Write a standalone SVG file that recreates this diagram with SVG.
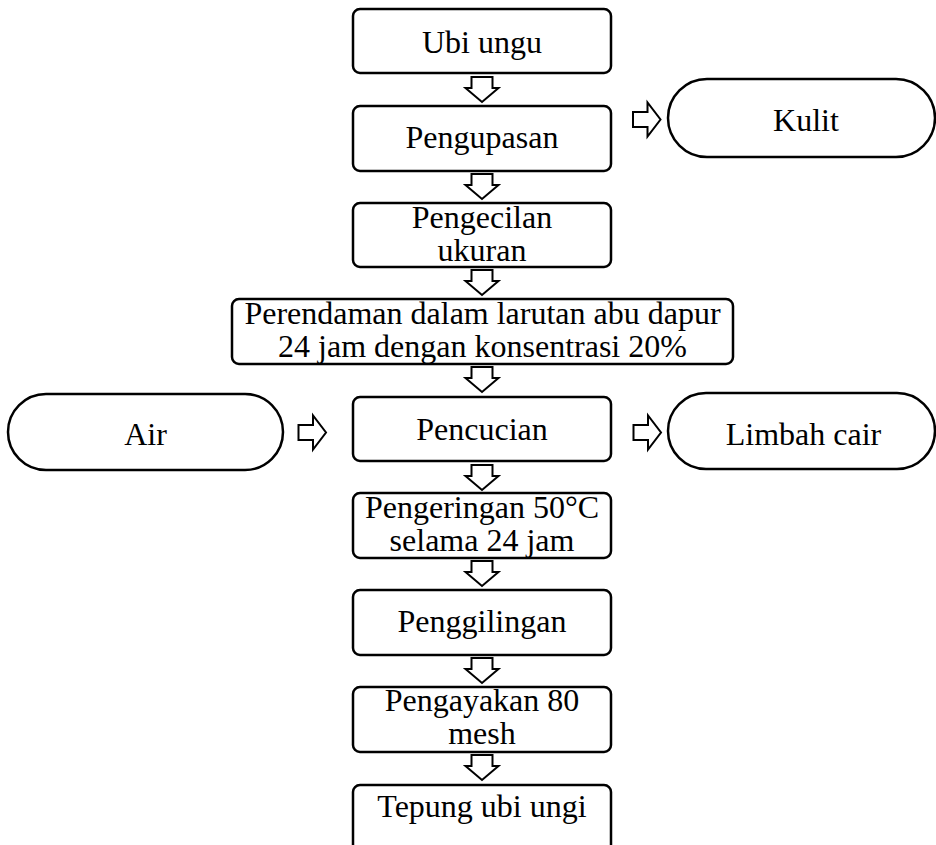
<svg xmlns="http://www.w3.org/2000/svg" xmlns:xlink="http://www.w3.org/1999/xlink" width="936" height="845" viewBox="0 0 936 845">
<style>
.box{fill:#fff;stroke:#000;stroke-width:2.5}
.term{fill:#fff;stroke:#000;stroke-width:2.5}
.arr{fill:#fff;stroke:#000;stroke-width:2;stroke-linejoin:miter}
text{font-family:"Liberation Serif","Times New Roman",serif;font-size:32px;fill:#000;text-anchor:middle}
</style>
<defs>
<path id="down" d="M -10.5 0 H 10.5 V 11 H 16.5 L 0 25 L -16.5 11 H -10.5 Z"/>
<path id="right" d="M 0 -7.5 H 14.5 V -17 L 27.5 0 L 14.5 17 V 7.5 H 0 Z"/>
</defs>
<rect width="936" height="845" fill="#fff"/>
<g id="connectors">
<use xlink:href="#down" class="arr" x="482" y="77"/>
<use xlink:href="#down" class="arr" x="482" y="174"/>
<use xlink:href="#down" class="arr" x="482" y="270"/>
<use xlink:href="#down" class="arr" x="482" y="367"/>
<use xlink:href="#down" class="arr" x="482" y="465"/>
<use xlink:href="#down" class="arr" x="482" y="561"/>
<use xlink:href="#down" class="arr" x="482" y="658"/>
<use xlink:href="#down" class="arr" x="482" y="755"/>
<use xlink:href="#right" class="arr" x="633" y="119.5"/>
<use xlink:href="#right" class="arr" x="298.5" y="432.5"/>
<use xlink:href="#right" class="arr" x="633.5" y="432.5"/>
</g>
<g id="ubi-ungu"><rect class="box" x="353" y="9" width="258" height="64" rx="7"/><text x="482" y="53">Ubi ungu</text></g>
<g id="pengupasan"><rect class="box" x="353" y="106" width="258" height="65" rx="7"/><text x="482" y="148">Pengupasan</text></g>
<g id="kulit"><rect class="term" x="668" y="79" width="267" height="78" rx="39"/><text x="806" y="131">Kulit</text></g>
<g id="pengecilan"><rect class="box" x="353" y="203" width="258" height="64" rx="7"/><text x="482" y="228">Pengecilan</text><text x="482" y="261">ukuran</text></g>
<g id="perendaman"><rect class="box" x="232" y="299" width="501" height="65" rx="7"/><text x="482.5" y="324">Perendaman dalam larutan abu dapur</text><text x="482.5" y="357">24 jam dengan konsentrasi 20%</text></g>
<g id="air"><rect class="term" x="8" y="394" width="275" height="76" rx="38"/><text x="145.5" y="445">Air</text></g>
<g id="pencucian"><rect class="box" x="353" y="397" width="258" height="64" rx="7"/><text x="482" y="440">Pencucian</text></g>
<g id="limbah-cair"><rect class="term" x="668" y="393" width="267" height="76" rx="38"/><text x="803.5" y="445">Limbah cair</text></g>
<g id="pengeringan"><rect class="box" x="353" y="493" width="258" height="65" rx="7"/><text x="482" y="518">Pengeringan 50°C</text><text x="482" y="551">selama 24 jam</text></g>
<g id="penggilingan"><rect class="box" x="353" y="590" width="258" height="65" rx="7"/><text x="482" y="632">Penggilingan</text></g>
<g id="pengayakan"><rect class="box" x="353" y="687" width="258" height="65" rx="7"/><text x="482" y="711">Pengayakan 80</text><text x="482" y="744">mesh</text></g>
<g id="tepung"><rect class="box" x="353" y="785" width="258" height="70" rx="7"/><text x="482" y="817">Tepung ubi ungi</text></g>
</svg>
